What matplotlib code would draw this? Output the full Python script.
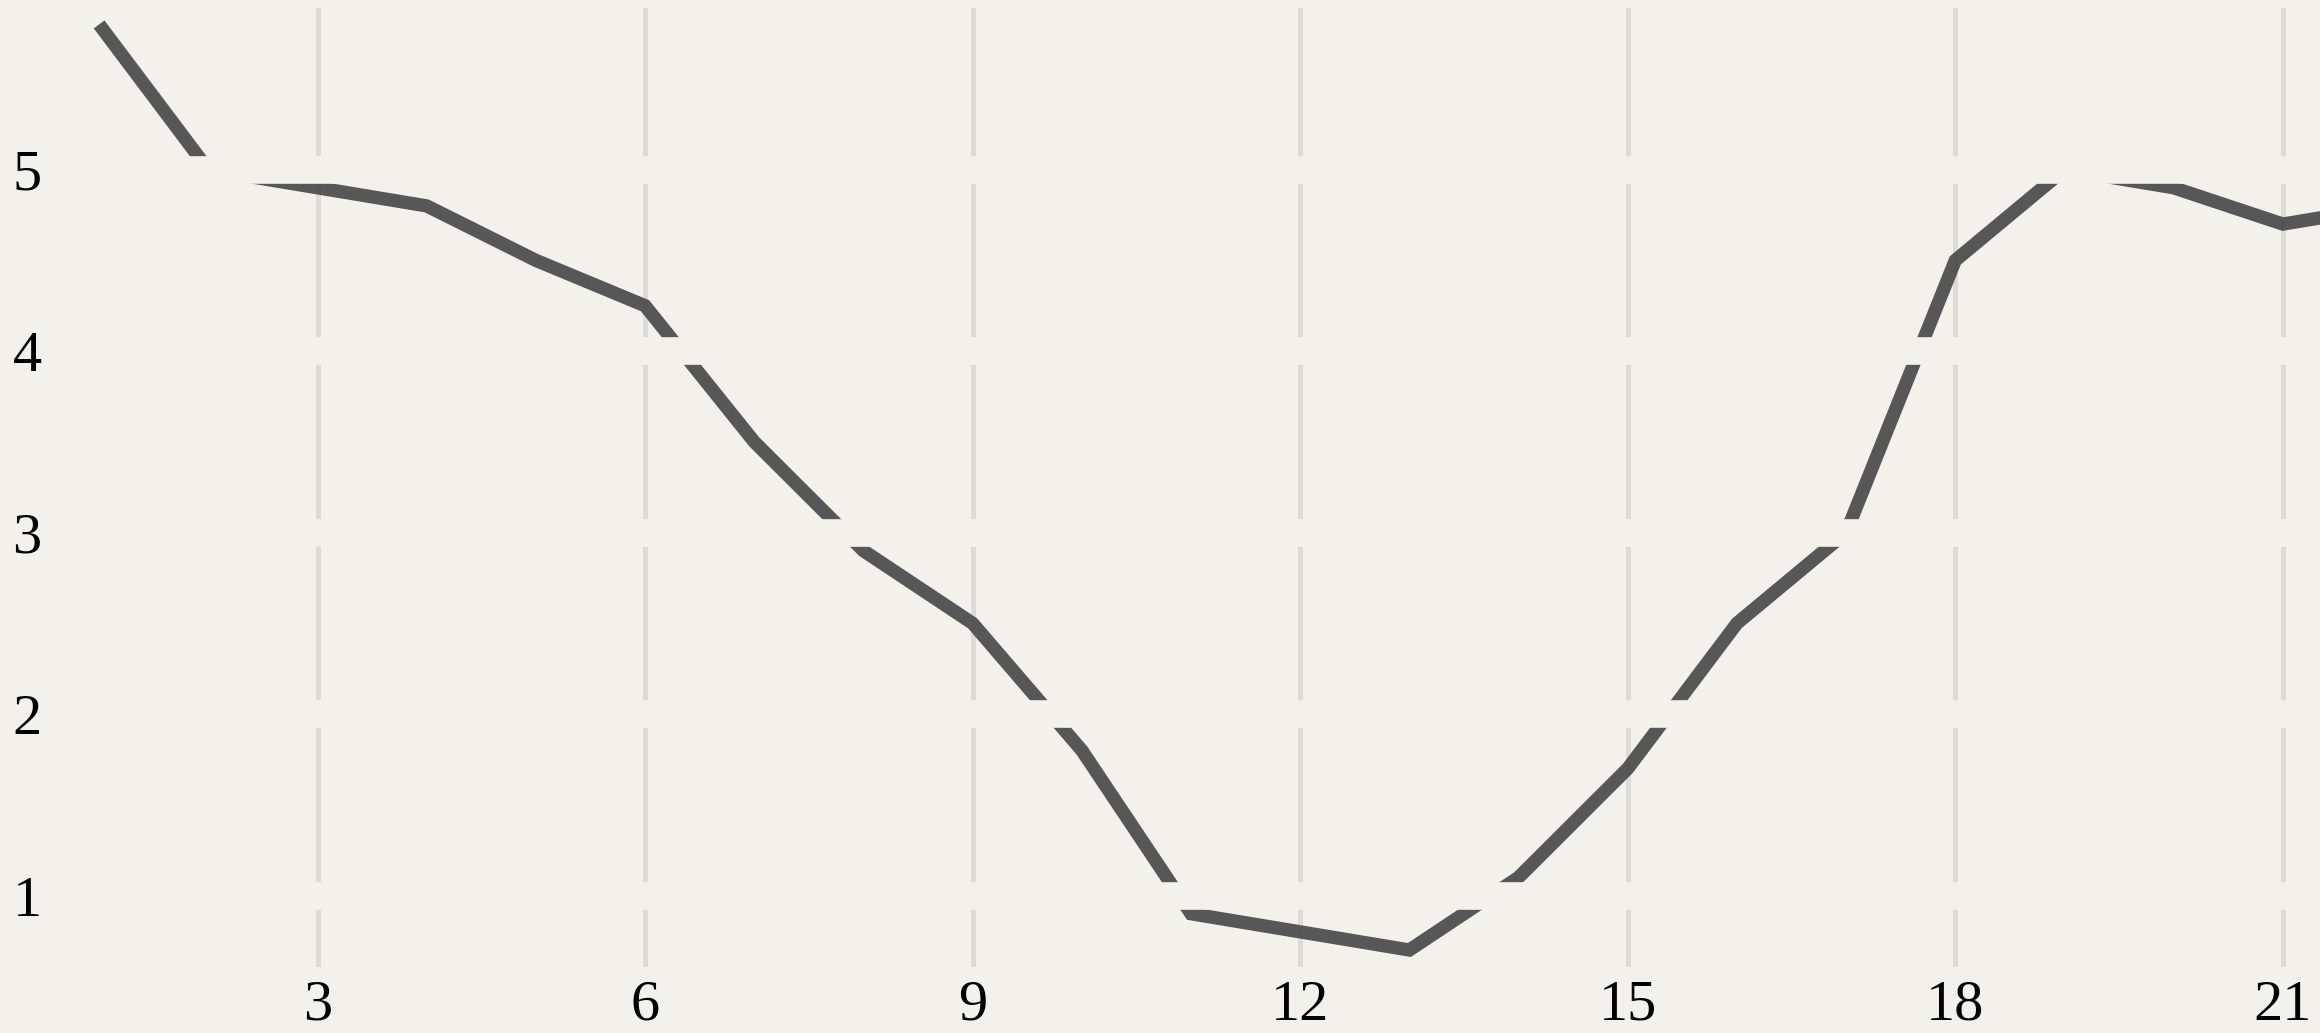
import numpy as np
import matplotlib.pyplot as plt

# series values, one per step
steps = np.arange(1, 23)
values = [5.8, 5.0, 4.9, 4.8, 4.5, 4.25, 3.5, 2.9, 2.5, 1.8, 0.9,
          0.8, 0.7, 1.1, 1.7, 2.5, 3.0, 4.5, 5.0, 4.9, 4.7, 4.8]

x_ticks = [3, 6, 9, 12, 15, 18, 21]
y_ticks = [1, 2, 3, 4, 5]

BG = '#f2f1ec'
GRID = '#dcdbd5'
LINE = '#4a4a4a'

plt.rcParams['font.family'] = ['Liberation Serif', 'DejaVu Serif']

W, H = 2320, 1033
fig = plt.figure(figsize=(W / 100, H / 100), dpi=100, facecolor=BG)
ax = fig.add_axes([50 / W, (H - 966.7) / H, (W - 50) / W, 958.4 / H])
ax.set_facecolor(BG)

# vertical guides
for xt in x_ticks:
    ax.axvline(xt, color=GRID, lw=3.6, zorder=1)

ax.plot(steps, values, color=LINE, alpha=0.92, lw=9.6,
        solid_capstyle='butt', solid_joinstyle='miter', zorder=2)

# background-coloured bands at each y level cut through lines and guides
for yt in y_ticks:
    ax.axhline(yt, color=BG, lw=19.9, zorder=3)

ax.set_xlim(0.55, 21.34)
ax.set_ylim(0.608, 5.889)
ax.set_xticks(x_ticks)
ax.set_yticks(y_ticks)
ax.tick_params(length=0, labelsize=42, colors='black')
ax.tick_params(axis='x', pad=9.5)
ax.tick_params(axis='y', pad=6)
for s in ax.spines.values():
    s.set_visible(False)

fig.savefig('out.png', dpi=100, facecolor=BG)
